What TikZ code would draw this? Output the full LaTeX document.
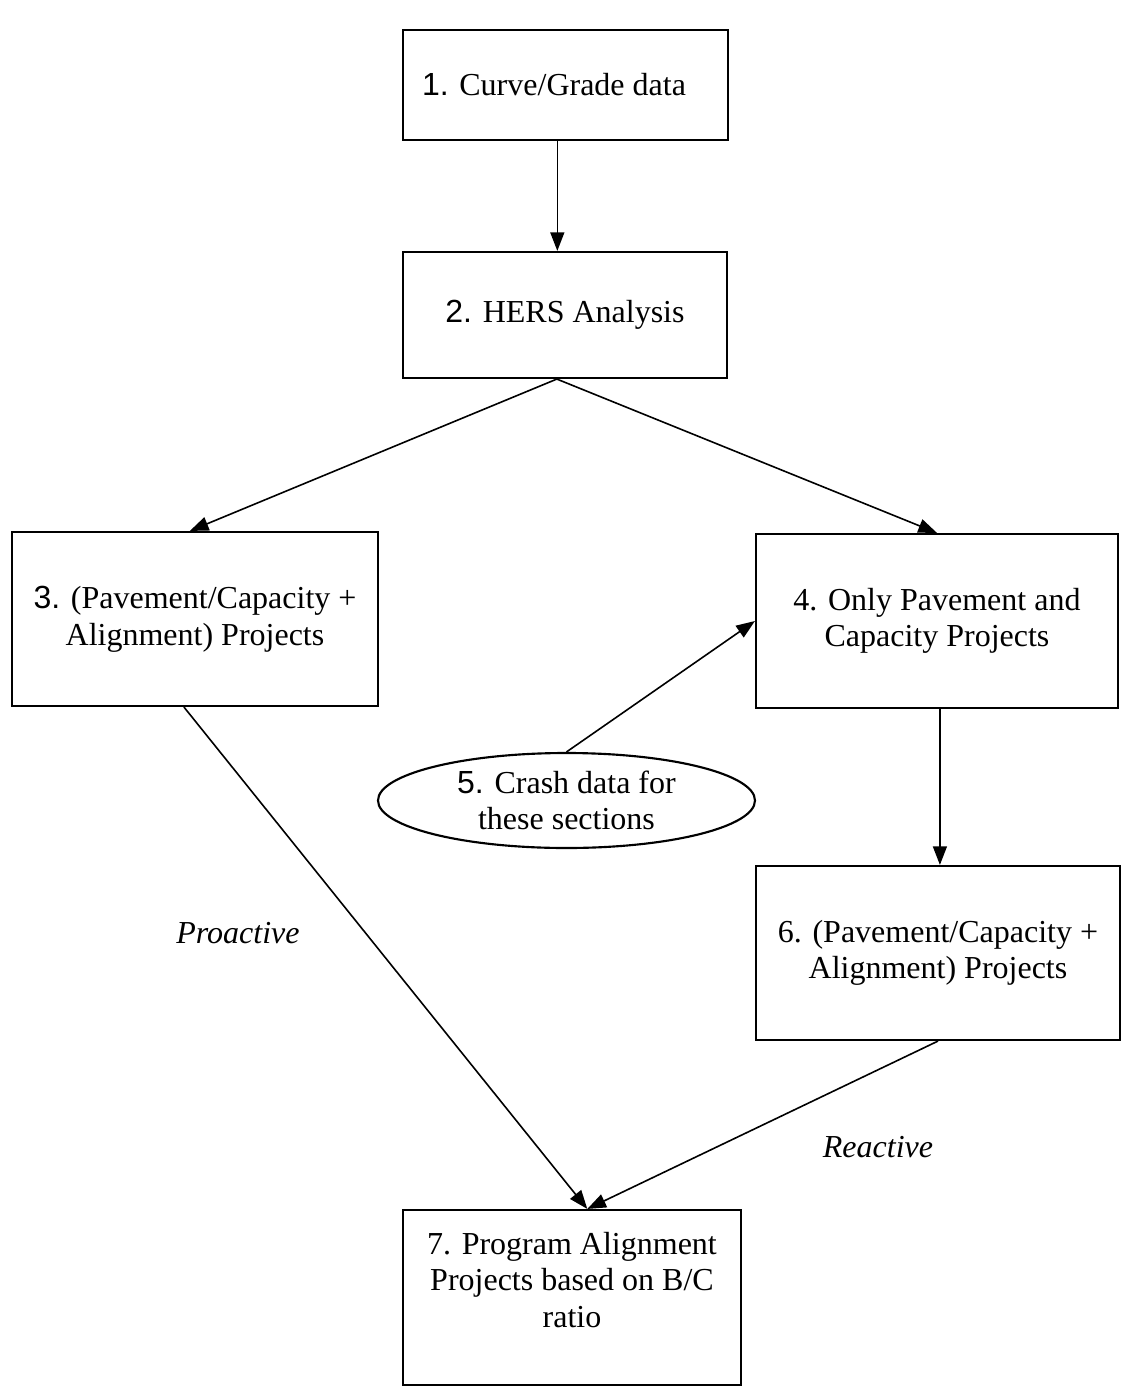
\documentclass[tikz,border=0pt]{standalone}
\usepackage{fontspec}
\setmainfont{Liberation Serif}
\newfontfamily\numfont{Liberation Sans}
\usetikzlibrary{arrows.meta,shapes.geometric,calc}

\begin{document}
\begin{tikzpicture}[x=0.75pt,y=-0.75pt,
  txt/.style={font=\fontsize{24}{27.5}\selectfont, align=center, inner sep=0pt},
  box/.style={draw, line width=1.6pt, rectangle, inner sep=0pt, txt},
  oval/.style={draw, line width=1.6pt, ellipse, inner sep=0pt, txt},
  conn/.style={line width=1.2pt, -{Triangle[length=14pt,width=10.5pt]}},
  tag/.style={font=\fontsize{24}{27.5}\selectfont\itshape, inner sep=0pt}]
  \useasboundingbox (0,0) rectangle (1123,1395);

  % boxes
  \node[box, minimum width=243.75pt, minimum height=82.5pt] (b1) at (565.5,85) {};
  \node[txt] (t1) at (554,85) {{\numfont 1.} Curve/Grade data};
  \node[box, minimum width=243pt, minimum height=94.5pt] (b2) at (565,315)
    {{\numfont 2.} HERS Analysis};
  \node[box, minimum width=274.5pt, minimum height=130.5pt] (b3) at (195,619)
    {{\numfont 3.} (Pavement/Capacity +\\Alignment) Projects};
  \node[box, minimum width=271.5pt, minimum height=130.5pt] (b4) at (937,621)
    {4. Only Pavement and\\Capacity Projects};
  \node[oval, minimum width=282.75pt, minimum height=71.25pt] (e5) at (566.5,800.5)
    {{\numfont 5.} Crash data for\\these sections};
  \node[box, minimum width=273pt, minimum height=130.5pt] (b6) at (938,953)
    {6. (Pavement/Capacity +\\Alignment) Projects};
  \node[box, minimum width=253.5pt, minimum height=131.25pt] (b7) at (572,1297.5) {};
  \node[txt] (t7) at (572,1280) {7. Program Alignment\\Projects based on B/C\\ratio};

  % attachment points along the box edges
  \coordinate (out1) at ($(b1.south west)!0.475!(b1.south east)$);
  \coordinate (in2)  at (out1 |- b2.north);
  \coordinate (out2) at ($(b2.south west)!0.475!(b2.south east)$);
  \coordinate (in3)  at ($(b3.north west)!0.486!(b3.north east)$);
  \coordinate (out3) at ($(b3.south west)!0.47!(b3.south east)$);
  \coordinate (out4) at ($(b4.south west)!0.508!(b4.south east)$);
  \coordinate (in6)  at (out4 |- b6.north);
  \coordinate (in7)  at ($(b7.north west)!0.545!(b7.north east)$);

  % connectors
  \draw[conn] (out1) -- (in2);
  \draw[conn] (out2) -- (in3);
  \draw[conn] (out2) -- (b4.north);
  \draw[conn] (e5.north) -- (b4.west);
  \draw[conn] (out4) -- (in6);
  \draw[conn] (out3) -- (in7);
  \draw[conn] (b6.south) -- (in7);

  % path labels
  \node[tag] (pro) at (238,933) {Proactive};
  \node[tag] (rea) at (878,1147) {Reactive};
\end{tikzpicture}
\end{document}
